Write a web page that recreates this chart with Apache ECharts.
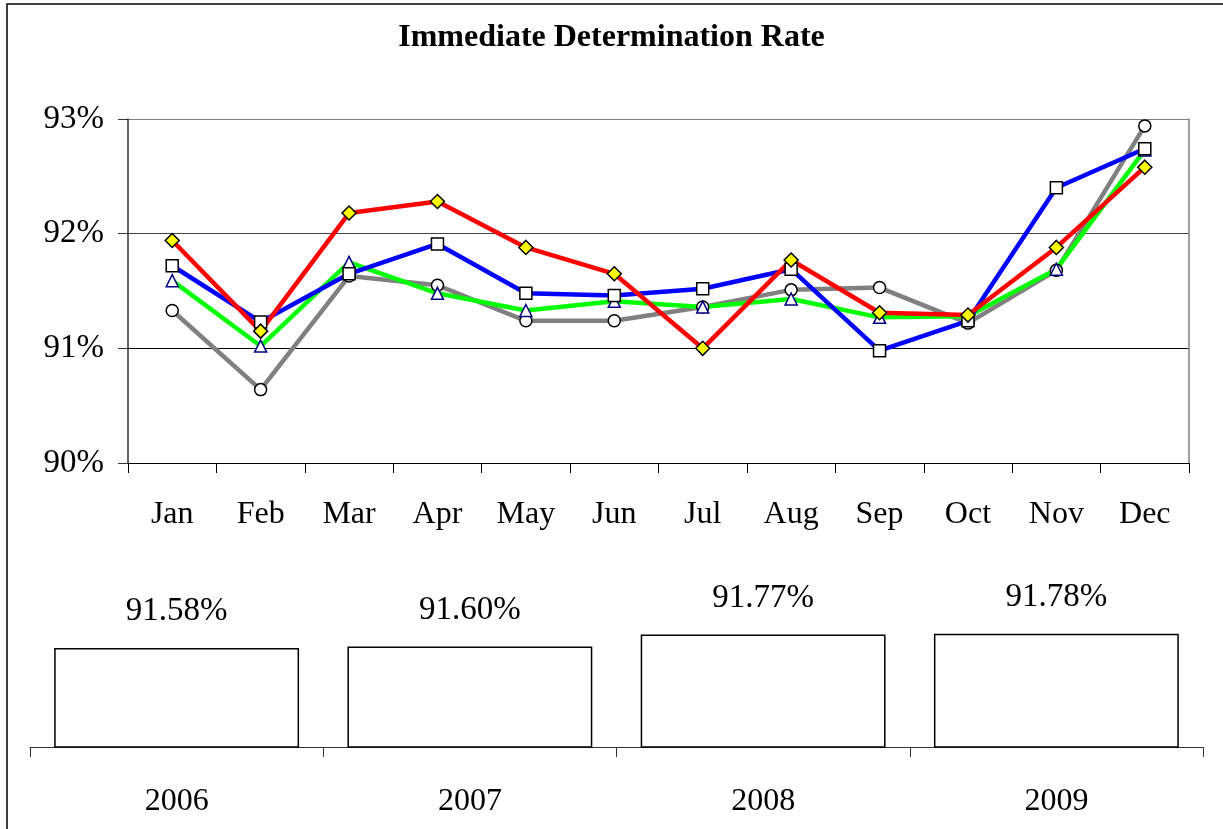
<!DOCTYPE html>
<html>
<head>
<meta charset="utf-8">
<title>Immediate Determination Rate</title>
<script src="https://cdn.jsdelivr.net/npm/echarts@6/dist/echarts.min.js"></script>
<style>
  html, body { margin: 0; padding: 0; background: #fff; }
  #chart { width: 1223px; height: 829px; }
</style>
</head>
<body>
<div id="chart"></div>
<script>
// months on the line chart
const months = ['Jan', 'Feb', 'Mar', 'Apr', 'May', 'Jun', 'Jul', 'Aug', 'Sep', 'Oct', 'Nov', 'Dec']

// monthly rates (%)
const rate2006 = [91.33, 90.64, 91.63, 91.55, 91.24, 91.24, 91.36, 91.51, 91.53, 91.22, 91.68, 92.94]
const rate2007 = [91.59, 91.02, 91.75, 91.48, 91.33, 91.41, 91.36, 91.43, 91.27, 91.28, 91.69, 92.73]
const rate2008 = [91.72, 91.23, 91.65, 91.91, 91.48, 91.46, 91.52, 91.69, 90.98, 91.24, 92.40, 92.74]
const rate2009 = [91.94, 91.15, 92.18, 92.28, 91.88, 91.65, 91.00, 91.77, 91.31, 91.29, 91.88, 92.58]

// yearly averages (%)
const years = ['2006', '2007', '2008', '2009']
const yearAvg = [91.58, 91.60, 91.77, 91.78]

const serif = '"Liberation Serif", "DejaVu Serif", serif'

// one line series per year
function lineSeries(name, data, color, symbol, fill, border) {
  return {
    name: name,
    type: 'line',
    xAxisIndex: 0,
    yAxisIndex: 0,
    data: data,
    symbol: symbol,
    symbolSize: symbol === 'diamond' ? 14 : 12,
    showAllSymbol: true,
    lineStyle: { color: color, width: 4.5 },
    itemStyle: { color: fill, borderColor: border, borderWidth: 1.5 },
    emphasis: { disabled: true }
  }
}

const chart = echarts.init(document.getElementById('chart'))

const option = {
  animation: false,
  backgroundColor: '#fff',
  title: {
    text: 'Immediate Determination Rate',
    left: 'center',
    top: 17,
    textStyle: { fontFamily: serif, fontSize: 32, fontWeight: 'bold', color: '#000' }
  },
  graphic: [
    {
      // outer frame, runs off the right and bottom edge
      type: 'rect',
      shape: { x: 7, y: 4, width: 1240, height: 850 },
      style: { fill: null, stroke: '#000', lineWidth: 1.5 },
      silent: true
    }
  ],
  grid: [
    { left: 128, right: 34, top: 119, height: 344 },
    { left: 30, right: 20, top: 600, height: 147 }
  ],
  xAxis: [
    {
      type: 'category',
      gridIndex: 0,
      data: months,
      boundaryGap: true,
      axisLine: { lineStyle: { color: '#000', width: 1 } },
      axisTick: { show: true, length: 10, lineStyle: { color: '#000' } },
      axisLabel: { fontFamily: serif, fontSize: 32, color: '#000', margin: 36 }
    },
    {
      type: 'category',
      gridIndex: 1,
      data: years,
      boundaryGap: true,
      axisLine: { lineStyle: { color: '#333', width: 1 } },
      axisTick: { show: true, length: 10, lineStyle: { color: '#333' } },
      axisLabel: { fontFamily: serif, fontSize: 32, color: '#000', margin: 39 }
    }
  ],
  yAxis: [
    {
      type: 'value',
      gridIndex: 0,
      min: 90,
      max: 93,
      interval: 1,
      axisLine: { show: true, lineStyle: { color: '#333', width: 1.5 } },
      axisTick: { show: true, length: 10, lineStyle: { color: '#333' } },
      axisLabel: {
        fontFamily: serif, fontSize: 33, color: '#000', margin: 24,
        formatter: v => v + '%'
      },
      splitLine: { show: true, lineStyle: { color: ['#000', '#000', '#444', '#808080'], width: 1.2 } }
    },
    {
      // right side border of the plot area
      type: 'value',
      gridIndex: 0,
      position: 'right',
      min: 90,
      max: 93,
      interval: 1,
      axisLine: { show: true, lineStyle: { color: '#808080', width: 1.5 } },
      axisTick: { show: false },
      axisLabel: { show: false },
      splitLine: { show: false }
    },
    {
      type: 'value',
      gridIndex: 1,
      min: 90.2,
      max: 92.25,
      show: false,
      splitLine: { show: false }
    }
  ],
  series: [
    lineSeries('2006', rate2006, '#808080', 'circle', '#fff', '#000'),
    lineSeries('2007', rate2007, '#00ff00', 'triangle', '#fff', '#000080'),
    lineSeries('2008', rate2008, '#0000ff', 'rect', '#fff', '#000'),
    lineSeries('2009', rate2009, '#ff0000', 'diamond', '#ffff00', '#000'),
    {
      name: 'Average',
      type: 'bar',
      xAxisIndex: 1,
      yAxisIndex: 2,
      data: yearAvg,
      barCategoryGap: '16.5%',
      itemStyle: { color: '#fff', borderColor: '#000', borderWidth: 1.5 },
      label: {
        show: true,
        position: 'top',
        distance: 20,
        fontFamily: serif,
        fontSize: 33,
        color: '#000',
        formatter: p => p.value.toFixed(2) + '%'
      },
      emphasis: { disabled: true }
    }
  ]
}

chart.setOption(option)
</script>
</body>
</html>
